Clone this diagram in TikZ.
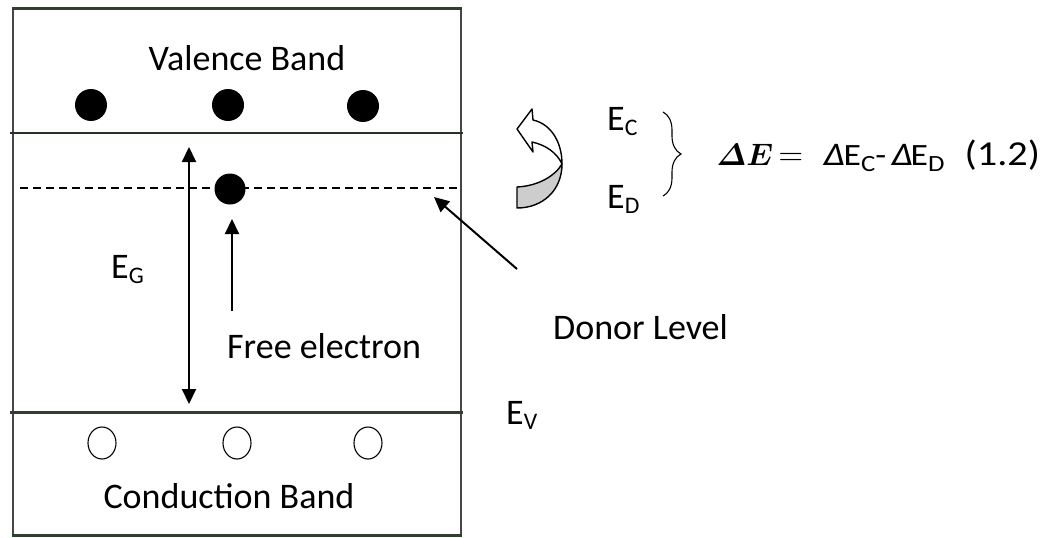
\RequirePackage{fix-cm}
\documentclass[tikz,border=0pt]{standalone}
\usepackage{amsmath,bm}
\usepackage{fontspec}
\setmainfont{Carlito}
\usetikzlibrary{arrows.meta,shapes.geometric,decorations.pathreplacing}
\definecolor{bandline}{RGB}{45,65,45}
\definecolor{sideline}{RGB}{70,70,70}
\definecolor{ribbon}{RGB}{205,205,205}
\newcommand\sbx[1]{\raisebox{-0.15em}{\scalebox{0.66}{#1}}}
\newcommand\sbq[1]{\raisebox{-0.2em}{\scalebox{0.75}{#1}}}
\newcommand\eqat[2]{\makebox[0pt][l]{\hspace*{#1pt}#2}}
\newcommand\wide[1]{\scalebox{1.15}[1]{#1}}
\begin{document}
\begin{tikzpicture}[x=1pt,y=-1pt,
  lbl/.style={inner sep=0pt, anchor=base west, font=\fontsize{36}{40}\selectfont},
  lblc/.style={inner sep=0pt, anchor=base, font=\fontsize{36}{40}\selectfont},
  fulldot/.style={circle, fill=black, minimum size=32pt, inner sep=0pt},
  hole/.style={ellipse, draw=black, line width=1.1pt, minimum width=28pt, minimum height=32pt, inner sep=0pt},
  arr/.style={line width=2pt, -{Triangle[length=15pt,width=14pt]}},
  darr/.style={line width=2pt, {Triangle[length=15pt,width=14pt]}-{Triangle[length=15pt,width=14pt]}},
  outline/.style={draw=black, line width=1.4pt, line join=round},
]
\useasboundingbox (0,0) rectangle (1055,538);
\fill[white] (0,0) rectangle (1055,538);

% band box
\draw[sideline, line width=2.5pt] (13,8) -- (13,536);
\draw[sideline, line width=2.5pt] (461,8) -- (461,536);
\draw[bandline, line width=3pt] (12,8) -- (462,8);
\draw[bandline!80!black, line width=1.5pt] (10,133) -- (463,133);
\draw[black, line width=1.3pt, dash pattern=on 8pt off 5pt] (20,188) -- (458,188);
\draw[bandline, line width=3pt] (10,412.5) -- (463,412.5);
\draw[bandline, line width=3pt] (12,535) -- (462,535);

% electrons and holes
\node[fulldot] (v1) at (91,105) {};
\node[fulldot] (v2) at (228,105) {};
\node[fulldot] (v3) at (363,106) {};
\node[fulldot, minimum size=31pt] (d1) at (230,189) {};
\node[hole] (h1) at (102,443) {};
\node[hole] (h2) at (237,443) {};
\node[hole] (h3) at (368,443) {};

% labels
\node[lblc] (vb) at (247,70) {Valence Band};
\node[lblc] (cb) at (229,508) {Conduction Band};
\node[lbl] (fe) at (227,358) {Free electron};
\node[lbl] (dl) at (553,339) {Donor Level};
\node[lbl] (eg) at (111,278) {E\sbx{G}};
\node[lbl] (ev) at (506,424) {E\sbx{V}};
\node[lbl] (ec) at (607,130) {E\sbx{C}};
\node[lbl] (ed) at (607,208) {E\sbx{D}};
\node[inner sep=0pt, anchor=base west, font=\fontsize{31}{36}\selectfont] (eq) at (716,165)
  {\eqat{0}{\fontsize{31}{36}\selectfont$\bm{\varDelta E}$}%
   \eqat{62}{\fontsize{34}{36}\selectfont$=$}%
   \eqat{107}{\wide{\fontsize{33}{36}\selectfont\itshape Δ}}%
   \eqat{127}{\wide{E\sbq{C}-}}%
   \eqat{175}{\wide{\fontsize{33}{36}\selectfont\itshape Δ}}%
   \eqat{194}{\wide{E\sbq{D}}}%
   \eqat{248}{\wide{\fontsize{35}{40}\selectfont(1.2)}}};

% arrows
\coordinate (egtop) at (189,147);
\coordinate (egbot) at (189,404);
\draw[darr] (egtop) -- (egbot);
\coordinate (fetail) at (232,311);
\coordinate (fetip) at (232,219);
\draw[arr] (fetail) -- (fetip);
\coordinate (dltail) at (517,269);
\coordinate (dltip) at (434,197);
\draw[arr] (dltail) -- (dltip);

% brace
\coordinate (bt) at (663,112);
\coordinate (bb) at (663,196);
\draw[line width=1.1pt, decorate, decoration={brace, amplitude=18pt}] (bt) -- (bb);

% curved arrow
\draw[outline, fill=ribbon] (517,187) .. controls (538,186) and (555,176) .. (562,164)
  .. controls (562,190) and (543,208) .. (517,208) -- cycle;
\draw[outline, fill=white] (533,120) .. controls (551,124) and (562,142) .. (562,164)
  .. controls (557,153) and (546,145) .. (532,142) -- (533,152) -- (517,129) -- (532,109) -- cycle;
\end{tikzpicture}
\end{document}
